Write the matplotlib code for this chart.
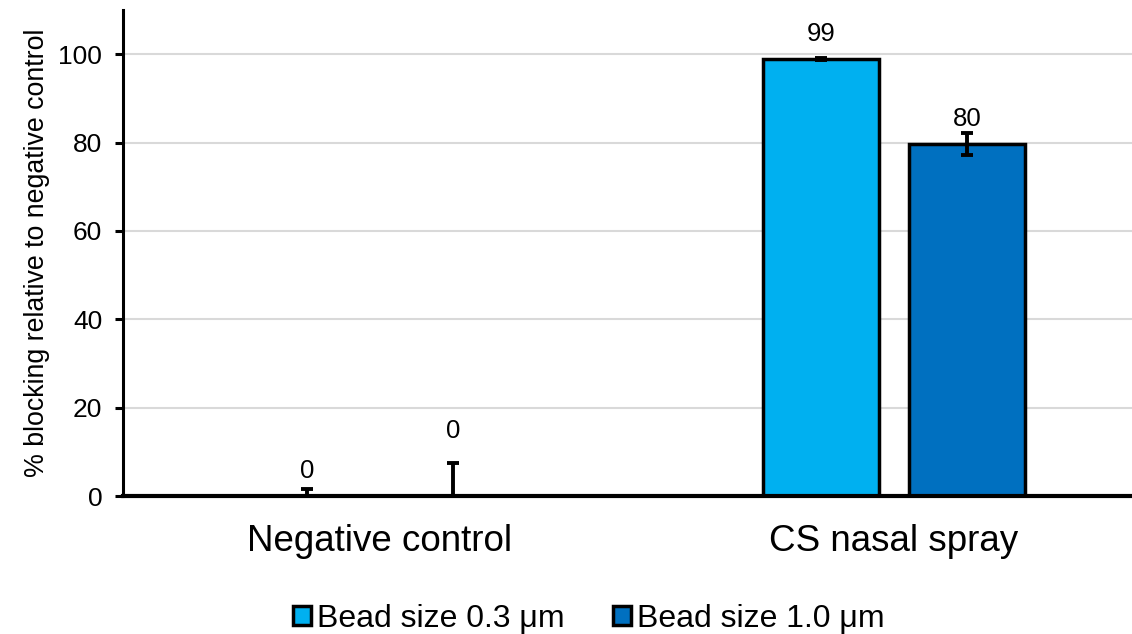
import matplotlib
matplotlib.use("Agg")
import matplotlib.pyplot as plt
import numpy as np
from matplotlib.patches import Patch

plt.rcParams['font.family'] = ['Liberation Sans', 'DejaVu Sans']

categories = ["Negative control", "CS nasal spray"]
series_names = ["Bead size 0.3 \u03bcm", "Bead size 1.0 \u03bcm"]
values_03 = [0.0, 98.9]
values_10 = [0.0, 79.7]
err_03 = [1.6, 0.3]
err_10 = [7.4, 2.5]
labels_03 = ["0", "99"]
labels_10 = ["0", "80"]
colors = ["#00B0F0", "#0070C0"]
yticks = [0, 20, 40, 60, 80, 100]

fig = plt.figure(figsize=(11.32, 6.34), dpi=100)
W, H = 1132, 634
ax = fig.add_axes([123 / W, 1 - 496 / H, 1028 / W, (496 - 10) / H])

x = np.arange(len(categories))
width = 0.2257
offset = 0.142

for i, (vals, errs, labs, col) in enumerate(zip([values_03, values_10], [err_03, err_10],
                                              [labels_03, labels_10], colors)):
    pos = x + (-offset if i == 0 else offset)
    ax.bar(pos, vals, width, color=col, edgecolor='black', linewidth=2.5, zorder=2)
    ax.errorbar(pos, vals, yerr=errs, fmt='none', ecolor='black', elinewidth=2.8,
                capsize=4.5, capthick=2.8, zorder=3)
    for p, v, e, l in zip(pos, vals, errs, labs):
        ly = v + 4.1 if e < 3.8 else v + e + 5.8
        ax.text(p, ly, l, ha='center', va='baseline', fontsize=18.5)

ax.set_xlim(-0.5, 1.5)
ax.set_ylim(0, 110)
ax.set_yticks(yticks)
ax.tick_params(axis='y', labelsize=19, length=6, width=2.2, direction='out', pad=9)
ax.set_xticks(x)
ax.set_xticklabels(categories, fontsize=26.5)
ax.tick_params(axis='x', length=0, pad=20)
ax.set_ylabel("% blocking relative to negative control", fontsize=19.3, labelpad=6)
ax.yaxis.grid(True, color='#D9D9D9', linewidth=1.5, zorder=0)
ax.set_axisbelow(True)
for s in ['top', 'right']:
    ax.spines[s].set_visible(False)
ax.spines['left'].set_linewidth(2.2)
ax.spines['bottom'].set_linewidth(3)
ax.spines['bottom'].set_zorder(4)

handles = [Patch(facecolor=c, edgecolor='black', linewidth=2.5) for c in colors]
fig.legend(handles, series_names, loc='center', bbox_to_anchor=(589 / W, 1 - 619 / H),
           ncol=2, frameon=False, fontsize=23, handlelength=0.55, handleheight=0.55,
           handletextpad=0.2, columnspacing=1.5, borderpad=0)

fig.savefig("out.png", dpi=100)
